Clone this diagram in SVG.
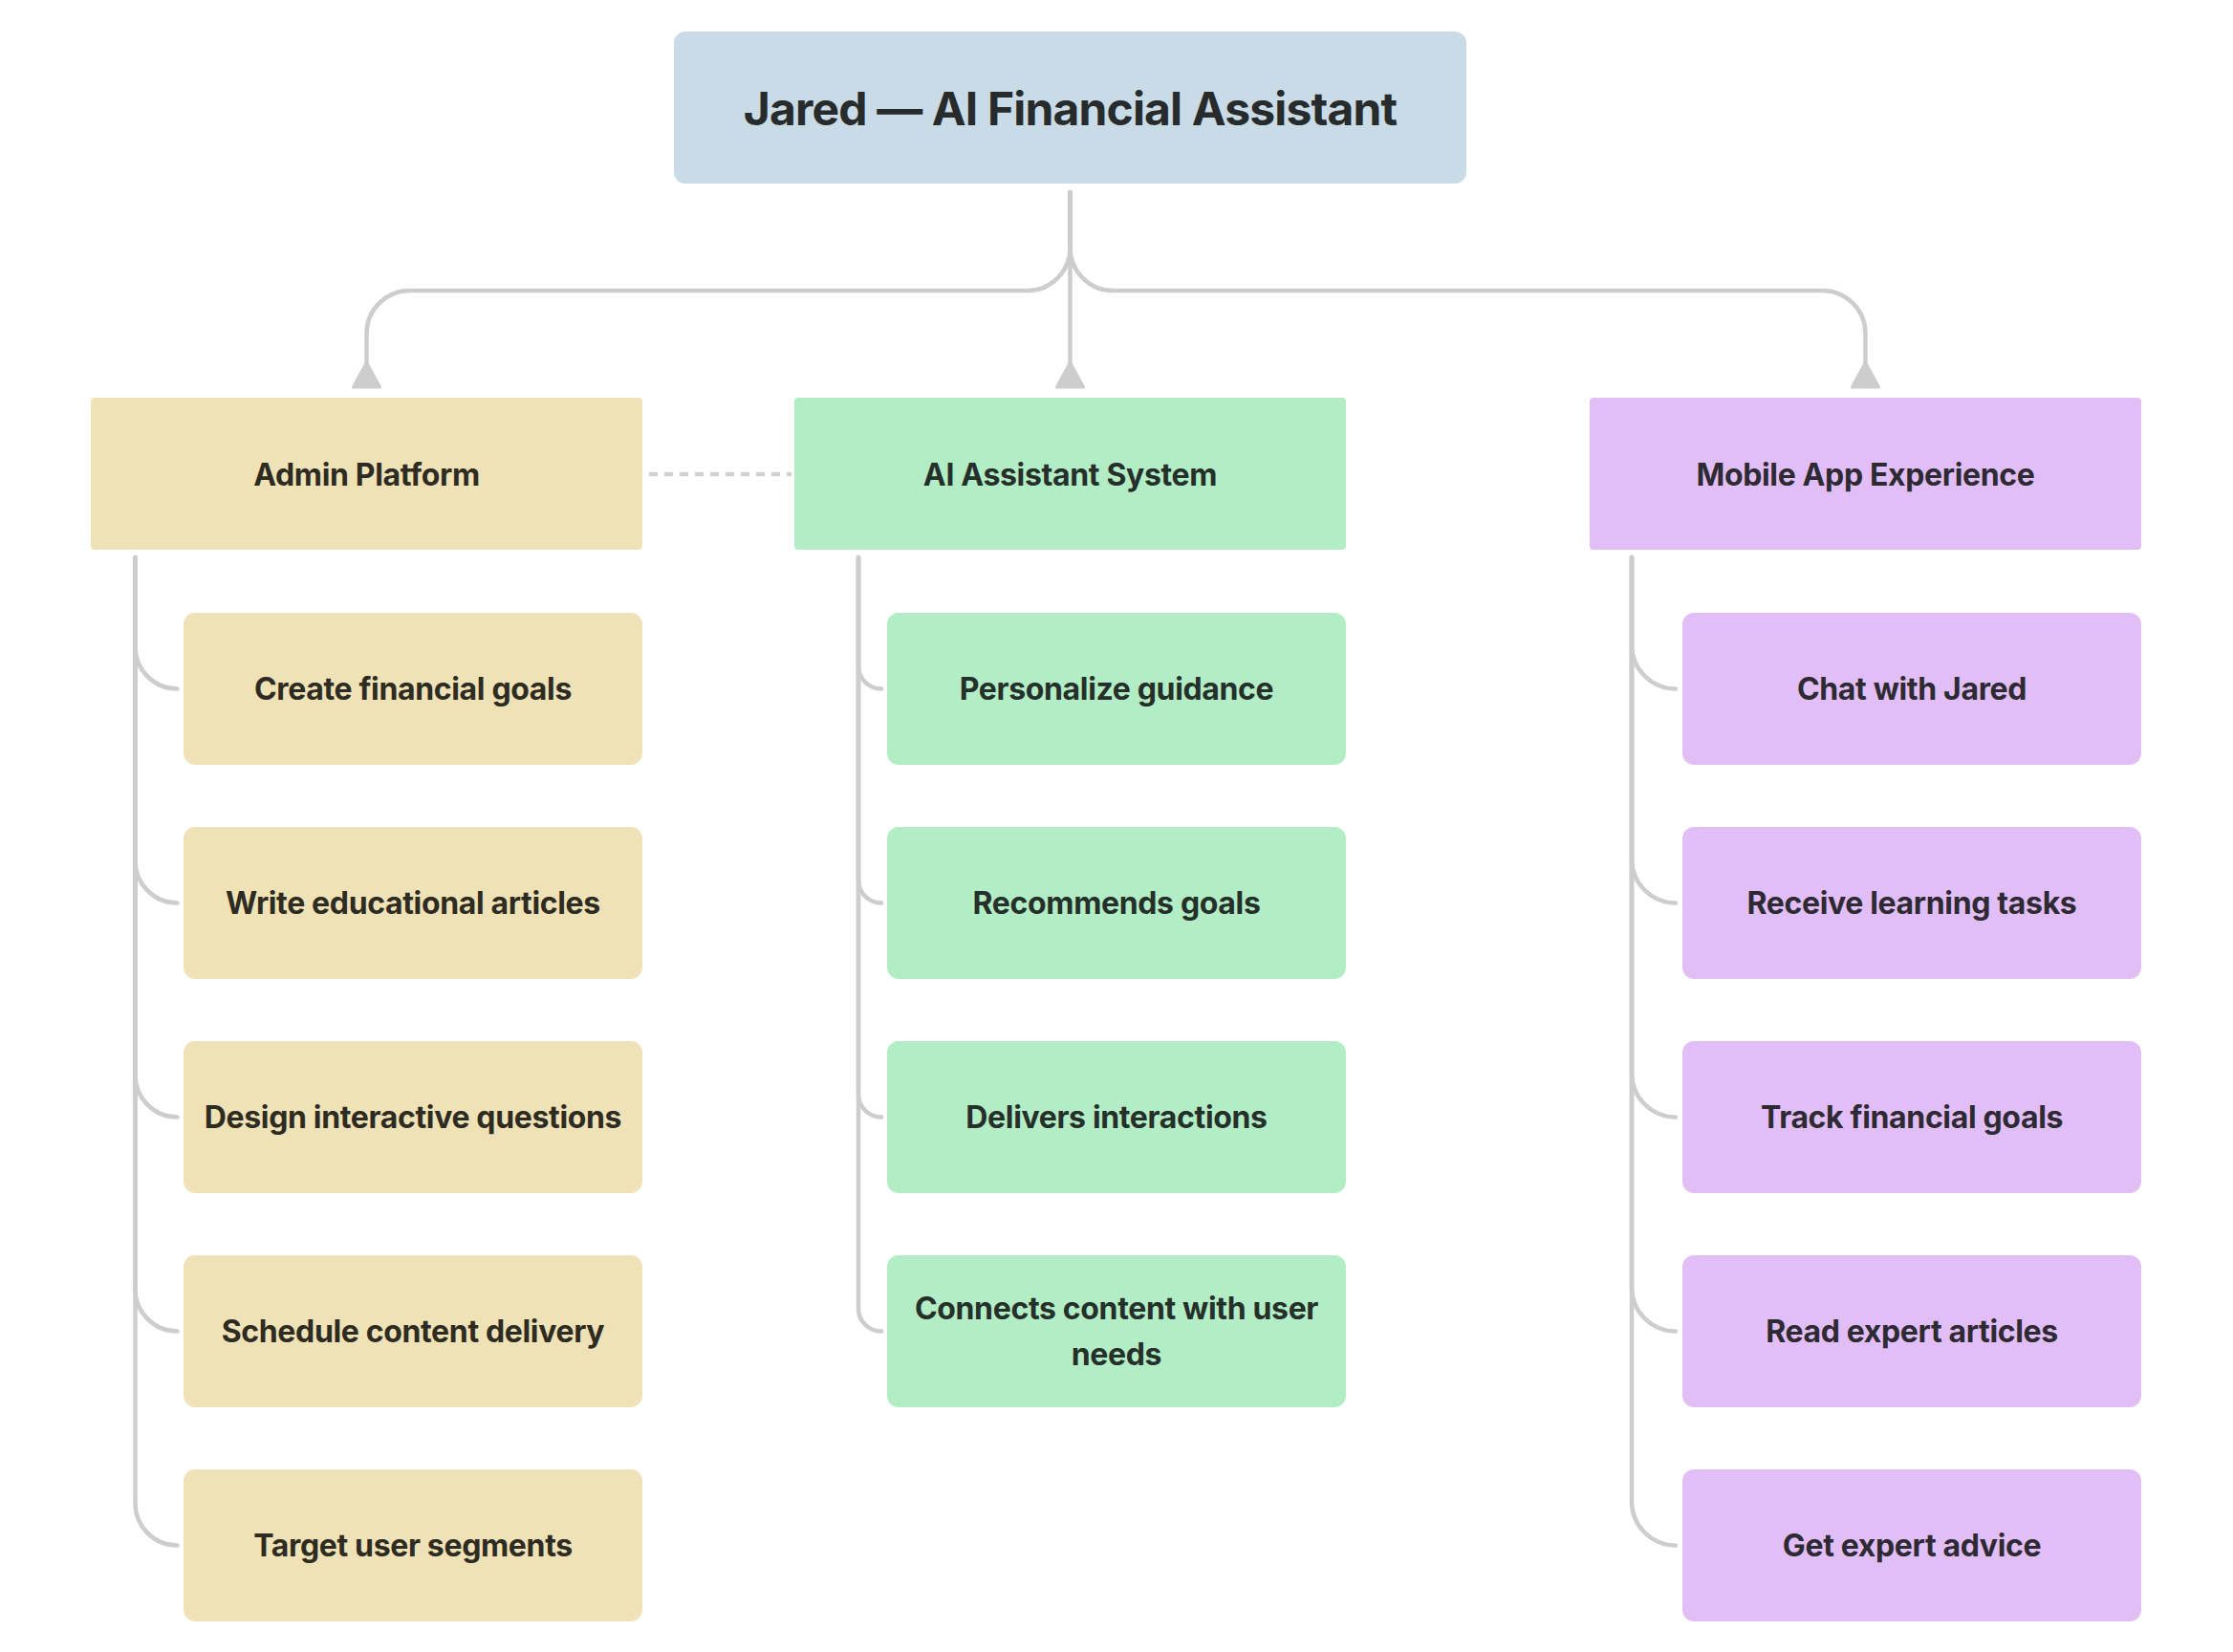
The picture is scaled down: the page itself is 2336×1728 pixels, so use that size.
<svg xmlns="http://www.w3.org/2000/svg" width="2336" height="1728" viewBox="0 0 2336 1728">
<style>
text{font-family:Inter,"Noto Sans","Liberation Sans",sans-serif;font-weight:700;font-size:32px;letter-spacing:-0.35px;text-anchor:middle;dominant-baseline:central}
.title{font-size:48px;letter-spacing:-0.85px;fill:#272b2c}
.adm rect{fill:#efe2b6}.adm text{fill:#2e2c22}
.ai rect{fill:#b3edc6}.ai text{fill:#25302a}
.mob rect{fill:#e2bef6}.mob text{fill:#2d2a33}
.ln{fill:none;stroke:#cdcdcd;stroke-width:4.5;stroke-linecap:round}
.dash{fill:none;stroke:#d2d2d2;stroke-width:4.5;stroke-dasharray:9 7}
.ah{fill:#cdcdcd;stroke:#cdcdcd;stroke-width:3;stroke-linejoin:round}
</style>
<rect width="2336" height="1728" fill="#ffffff"/>
<g id="connectors">
<path class="ln" d="M1119.5,201 V259 A45,45 0 0 1 1074.5,304 H428.5 A45,45 0 0 0 383.5,349 V398"/>
<path class="ln" d="M1119.5,201 V398"/>
<path class="ln" d="M1119.5,201 V259 A45,45 0 0 0 1164.5,304 H1906.5 A45,45 0 0 1 1951.5,349 V398"/>
<polygon class="ah" points="383.5,379 369.5,405 397.5,405"/>
<polygon class="ah" points="1119.5,379 1105.5,405 1133.5,405"/>
<polygon class="ah" points="1951.5,379 1937.5,405 1965.5,405"/>
<path class="dash" d="M679,496 H828"/>
<path class="ln" d="M141.5,583 V676.5 A44,44 0 0 0 185.5,720.5"/>
<path class="ln" d="M141.5,583 V900.5 A44,44 0 0 0 185.5,944.5"/>
<path class="ln" d="M141.5,583 V1124.5 A44,44 0 0 0 185.5,1168.5"/>
<path class="ln" d="M141.5,583 V1348.5 A44,44 0 0 0 185.5,1392.5"/>
<path class="ln" d="M141.5,583 V1572.5 A44,44 0 0 0 185.5,1616.5"/>
<path class="ln" d="M898,583 V696.5 A24,24 0 0 0 922,720.5"/>
<path class="ln" d="M898,583 V920.5 A24,24 0 0 0 922,944.5"/>
<path class="ln" d="M898,583 V1144.5 A24,24 0 0 0 922,1168.5"/>
<path class="ln" d="M898,583 V1368.5 A24,24 0 0 0 922,1392.5"/>
<path class="ln" d="M1707,583 V674.5 A46,46 0 0 0 1753,720.5"/>
<path class="ln" d="M1707,583 V898.5 A46,46 0 0 0 1753,944.5"/>
<path class="ln" d="M1707,583 V1122.5 A46,46 0 0 0 1753,1168.5"/>
<path class="ln" d="M1707,583 V1346.5 A46,46 0 0 0 1753,1392.5"/>
<path class="ln" d="M1707,583 V1570.5 A46,46 0 0 0 1753,1616.5"/>
</g>
<g id="root"><rect x="705" y="33" width="829" height="159" rx="12" fill="#c8dbe6"/><text class="title" x="1119.5" y="113">Jared — AI Financial Assistant</text></g>
<g id="admin" class="adm"><rect x="95" y="416" width="577" height="159" rx="4"/><text x="383.5" y="496">Admin Platform</text></g>
<g id="ai" class="ai"><rect x="831" y="416" width="577" height="159" rx="4"/><text x="1119.5" y="496">AI Assistant System</text></g>
<g id="mobile" class="mob"><rect x="1663" y="416" width="577" height="159" rx="4"/><text x="1951.5" y="496">Mobile App Experience</text></g>
<g id="adm1" class="adm"><rect x="192" y="641" width="480" height="159" rx="12"/><text x="432" y="720.5">Create financial goals</text></g>
<g id="adm2" class="adm"><rect x="192" y="865" width="480" height="159" rx="12"/><text x="432" y="944.5">Write educational articles</text></g>
<g id="adm3" class="adm"><rect x="192" y="1089" width="480" height="159" rx="12"/><text x="432" y="1168.5">Design interactive questions</text></g>
<g id="adm4" class="adm"><rect x="192" y="1313" width="480" height="159" rx="12"/><text x="432" y="1392.5">Schedule content delivery</text></g>
<g id="adm5" class="adm"><rect x="192" y="1537" width="480" height="159" rx="12"/><text x="432" y="1616.5">Target user segments</text></g>
<g id="ai1" class="ai"><rect x="928" y="641" width="480" height="159" rx="12"/><text x="1168" y="720.5">Personalize guidance</text></g>
<g id="ai2" class="ai"><rect x="928" y="865" width="480" height="159" rx="12"/><text x="1168" y="944.5">Recommends goals</text></g>
<g id="ai3" class="ai"><rect x="928" y="1089" width="480" height="159" rx="12"/><text x="1168" y="1168.5">Delivers interactions</text></g>
<g id="ai4" class="ai"><rect x="928" y="1313" width="480" height="159" rx="12"/><text x="1168" y="1368.5">Connects content with user</text><text x="1168" y="1416.5">needs</text></g>
<g id="mob1" class="mob"><rect x="1760" y="641" width="480" height="159" rx="12"/><text x="2000" y="720.5">Chat with Jared</text></g>
<g id="mob2" class="mob"><rect x="1760" y="865" width="480" height="159" rx="12"/><text x="2000" y="944.5">Receive learning tasks</text></g>
<g id="mob3" class="mob"><rect x="1760" y="1089" width="480" height="159" rx="12"/><text x="2000" y="1168.5">Track financial goals</text></g>
<g id="mob4" class="mob"><rect x="1760" y="1313" width="480" height="159" rx="12"/><text x="2000" y="1392.5">Read expert articles</text></g>
<g id="mob5" class="mob"><rect x="1760" y="1537" width="480" height="159" rx="12"/><text x="2000" y="1616.5">Get expert advice</text></g>
</svg>
